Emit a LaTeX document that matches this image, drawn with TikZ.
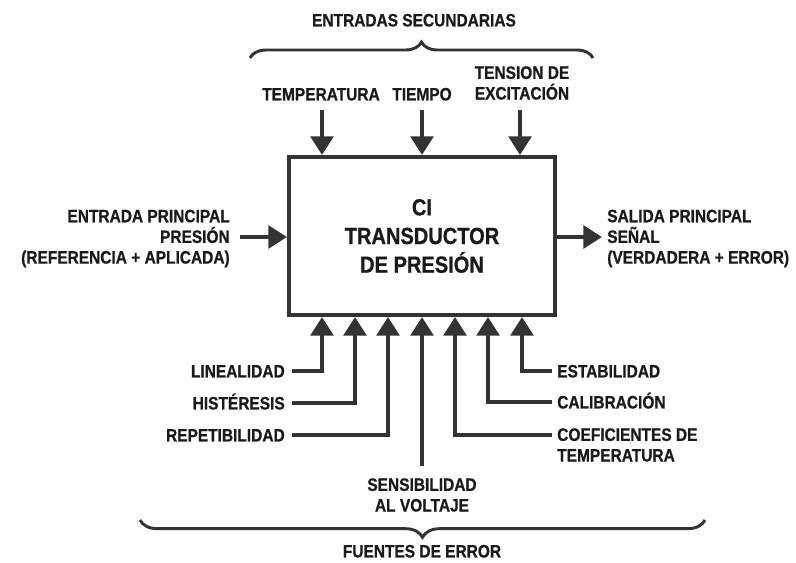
\documentclass[tikz,border=0pt]{standalone}
\usepackage{fontspec}
\setmainfont{Liberation Sans}
\newfontfamily\labfont[FakeStretch=0.86,FakeBold=0.7]{Liberation Sans}
\usetikzlibrary{arrows.meta,decorations.pathreplacing,calc}
\definecolor{ink}{HTML}{333333}
\definecolor{txt}{HTML}{1A1A1A}
\begin{document}
\begin{tikzpicture}[x=0.75pt,y=0.75pt,
  lbl/.style={font=\labfont\bfseries\fontsize{13.5}{15.5}\selectfont, text=txt, inner sep=0pt},
  one/.style={text height=9.7pt, text depth=0pt},
  arr/.style={draw=ink, line width=3pt, -{Triangle[length=14pt,width=17pt]}},
  brc/.style={draw=ink, line width=2.2pt, decorate, decoration={brace, amplitude=#1}}]
\useasboundingbox (0,0) rectangle (796,-563);

% main block
\node[draw=ink, line width=3pt, minimum width=199.5pt, minimum height=118.5pt,
      align=center, font=\labfont\bfseries\fontsize{17.5}{21.5}\selectfont, text=txt]
      (ic) at (422,-236) {CI\\TRANSDUCTOR\\DE PRESIÓN};

% secondary inputs
\node[lbl, one] (sec) at (414,-20) {ENTRADAS SECUNDARIAS};
\coordinate (bt1) at (250,-58);
\coordinate (bt2) at (593,-58);
\draw[brc=12pt] (bt1) -- (bt2);

\node[lbl, one] (temp) at (321,-94) {TEMPERATURA};
\node[lbl, one] (tiem) at (422,-94) {TIEMPO};
\node[lbl, align=center] (tens) at (522,-83) {TENSION DE\\EXCITACIÓN};

\coordinate (a1) at (322,-110);
\coordinate (a2) at (422,-110);
\coordinate (a3) at (520,-110);
\draw[arr] (a1) -- (a1 |- ic.north);
\draw[arr] (a2) -- (a2 |- ic.north);
\draw[arr] (a3) -- (a3 |- ic.north);

% principal input / output
\node[lbl, align=right, anchor=east] (inp) at (230,-238.5)
  {ENTRADA PRINCIPAL\\PRESIÓN\\(REFERENCIA + APLICADA)};
\coordinate (ain) at (240,-237);
\draw[arr] (ain) -- (ain -| ic.west);

\node[lbl, align=left, anchor=west] (out) at (607,-238.5)
  {SALIDA PRINCIPAL\\SEÑAL\\(VERDADERA + ERROR)};
\coordinate (aout) at (602,-237);
\draw[arr] (aout -| ic.east) -- (aout);

% error sources
\coordinate (b1) at ($(ic.south)+(-100,0)$);
\coordinate (b2) at ($(ic.south)+(-67,0)$);
\coordinate (b3) at ($(ic.south)+(-34,0)$);
\coordinate (b4) at (ic.south);
\coordinate (b5) at ($(ic.south)+(33,0)$);
\coordinate (b6) at ($(ic.south)+(66,0)$);
\coordinate (b7) at ($(ic.south)+(100,0)$);

\node[lbl, one, anchor=east] (lin) at (285,-371) {LINEALIDAD};
\node[lbl, one, anchor=east] (his) at (285,-403) {HISTÉRESIS};
\node[lbl, one, anchor=east] (rep) at (285,-435) {REPETIBILIDAD};
\draw[arr] ($(lin.east)+(7,0)$) -| (b1);
\draw[arr] ($(his.east)+(7,0)$) -| (b2);
\draw[arr] ($(rep.east)+(7,0)$) -| (b3);

\node[lbl, align=center] (sens) at (422,-495) {SENSIBILIDAD\\AL VOLTAJE};
\draw[arr] ($(sens.north)+(0,12)$) -- (b4);

\node[lbl, one, anchor=west] (est) at (557,-371) {ESTABILIDAD};
\node[lbl, one, anchor=west] (cal) at (557,-402) {CALIBRACIÓN};
\node[lbl, align=left, anchor=west] (coe) at (557,-445) {COEFICIENTES DE\\TEMPERATURA};
\draw[arr] ($(est.west)+(-5,0)$) -| (b7);
\draw[arr] ($(cal.west)+(-5,0)$) -| (b6);
\draw[arr] ($(coe.north west)+(-5,-6.5)$) -| (b5);

\coordinate (bb1) at (705,-520);
\coordinate (bb2) at (140,-520);
\draw[brc=13pt] (bb1) -- (bb2);
\node[lbl, one] (fue) at (422,-551) {FUENTES DE ERROR};
\end{tikzpicture}
\end{document}
